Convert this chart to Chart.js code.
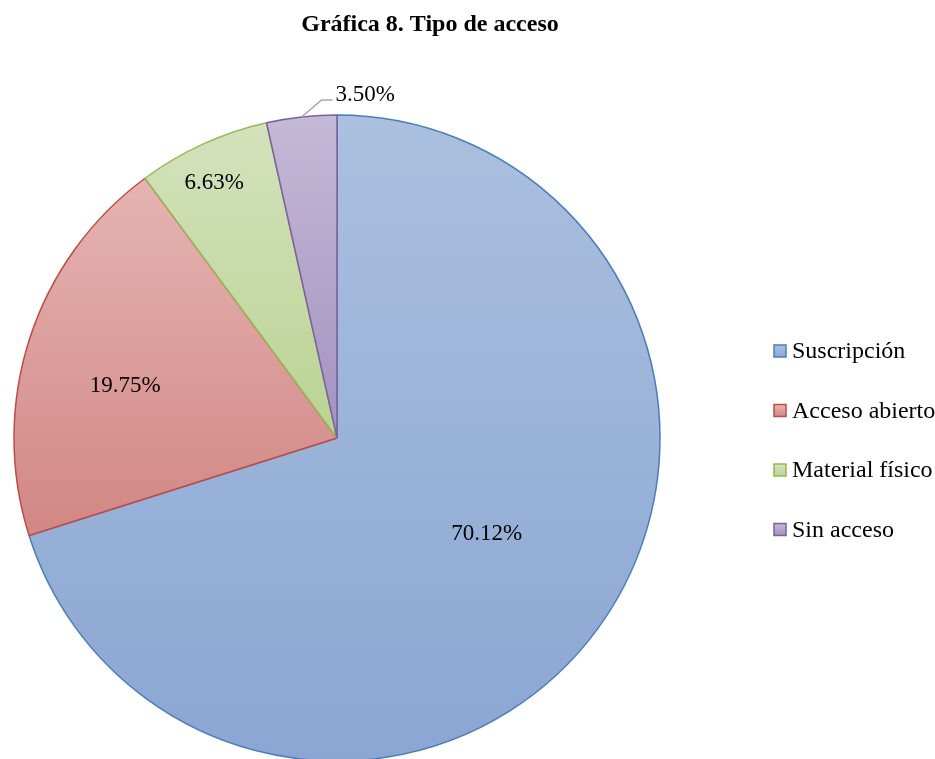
<!DOCTYPE html>
<html>
<head>
<meta charset="utf-8">
<script src="https://cdn.jsdelivr.net/npm/chart.js@4.4.1/dist/chart.umd.min.js"></script>
<style>
  html, body { margin: 0; padding: 0; background: #fff; overflow: hidden; }
</style>
</head>
<body>
<canvas id="tipo-acceso-chart" width="935" height="780"></canvas>
<script>
const categories = ["Suscripción", "Acceso abierto", "Material físico", "Sin acceso"];
const shares = [70.12, 19.75, 6.63, 3.5];

const lightColors = ["#aac0de", "#e5b4b2", "#d4e2bd", "#c4b9d6"];
const darkColors = ["#8ba6d3", "#d18784", "#bad393", "#a392c0"];
const borderColors = ["#4a7ebb", "#be4b48", "#98b954", "#7d60a0"];

const pieRadius = 323;
const serif = "'Liberation Serif', 'Times New Roman', serif";

// vertical extent of one slice, so each one gets its own gradient
function sliceYRange(i, cy, r) {
    const total = shares.reduce((a, b) => a + b, 0);
    const before = shares.slice(0, i).reduce((a, b) => a + b, 0);
    const a0 = -Math.PI / 2 + (2 * Math.PI * before) / total;
    const a1 = a0 + (2 * Math.PI * shares[i]) / total;
    const ys = [cy, cy + r * Math.sin(a0), cy + r * Math.sin(a1)];
    if (a0 <= Math.PI / 2 && a1 >= Math.PI / 2) ys.push(cy + r);
    if (a0 <= 1.5 * Math.PI && a1 >= 1.5 * Math.PI) ys.push(cy - r);
    return [Math.min(...ys), Math.max(...ys)];
}

function sliceFill(context) {
    const chart = context.chart;
    const area = chart.chartArea;
    const i = context.dataIndex;
    if (!area) return lightColors[i];
    const cy = (area.top + area.bottom) / 2;
    const [y0, y1] = sliceYRange(i, cy, pieRadius);
    const g = chart.ctx.createLinearGradient(0, y0, 0, y1);
    g.addColorStop(0, lightColors[i]);
    g.addColorStop(1, darkColors[i]);
    return g;
}

// label placement: fraction of the radius and a small angle nudge (degrees)
const labelDistance = [0.55, 0.675, 0.875];
const labelNudge = [-3.7, -4.2, -1.2];

const pieDecorations = {
    id: "pieDecorations",
    afterDatasetsDraw(chart) {
        const ctx = chart.ctx;
        const arcs = chart.getDatasetMeta(0).data;
        ctx.save();
        ctx.fillStyle = "#000";
        ctx.font = "23px " + serif;
        arcs.forEach((arc, i) => {
            const p = arc.getProps(["x", "y", "startAngle", "endAngle", "outerRadius"], true);
            const mid = (p.startAngle + p.endAngle) / 2;
            const text = shares[i].toFixed(2) + "%";
            if (i < labelDistance.length) {
                const a = mid + (labelNudge[i] * Math.PI) / 180;
                const d = labelDistance[i] * p.outerRadius;
                ctx.textAlign = "center";
                ctx.textBaseline = "middle";
                ctx.fillText(text, p.x + Math.cos(a) * d, p.y + Math.sin(a) * d);
            } else {
                // small slice: label outside with a leader line
                const ex = p.x + Math.cos(mid) * p.outerRadius;
                const ey = p.y + Math.sin(mid) * p.outerRadius;
                ctx.strokeStyle = "#a6a6a6";
                ctx.lineWidth = 1.5;
                ctx.beginPath();
                ctx.moveTo(ex, ey);
                ctx.lineTo(ex + 20, ey - 17);
                ctx.lineTo(ex + 31, ey - 17);
                ctx.stroke();
                ctx.textAlign = "left";
                ctx.textBaseline = "middle";
                ctx.fillText(text, ex + 34, ey - 22);
            }
        });

        // title
        ctx.font = "bold 24px " + serif;
        ctx.textAlign = "center";
        ctx.textBaseline = "alphabetic";
        ctx.fillText("Gráfica 8. Tipo de acceso", 430, 31);

        // legend on the right
        ctx.font = "24px " + serif;
        ctx.textAlign = "left";
        ctx.textBaseline = "middle";
        categories.forEach((name, i) => {
            const y = 351 + i * 59.5;
            const g = ctx.createLinearGradient(0, y - 6, 0, y + 6);
            g.addColorStop(0, lightColors[i]);
            g.addColorStop(1, darkColors[i]);
            ctx.fillStyle = g;
            ctx.fillRect(774, y - 6, 12, 12);
            ctx.strokeStyle = borderColors[i];
            ctx.lineWidth = 1.5;
            ctx.strokeRect(774, y - 6, 12, 12);
            ctx.fillStyle = "#000";
            ctx.fillText(name, 792, y + 1);
        });
        ctx.restore();
    },
};

const tipoAccesoChart = new Chart(document.getElementById("tipo-acceso-chart"), {
    type: "pie",
    data: {
        labels: categories,
        datasets: [
            {
                data: shares,
                backgroundColor: sliceFill,
                borderColor: borderColors,
                borderWidth: 1.5,
                hoverOffset: 0,
            },
        ],
    },
    options: {
        responsive: false,
        animation: false,
        devicePixelRatio: 1,
        radius: pieRadius,
        layout: { padding: { left: 14, top: 115, right: 275, bottom: 19 } },
        plugins: {
            legend: { display: false },
            tooltip: { enabled: false },
        },
    },
    plugins: [pieDecorations],
});
</script>
</body>
</html>
